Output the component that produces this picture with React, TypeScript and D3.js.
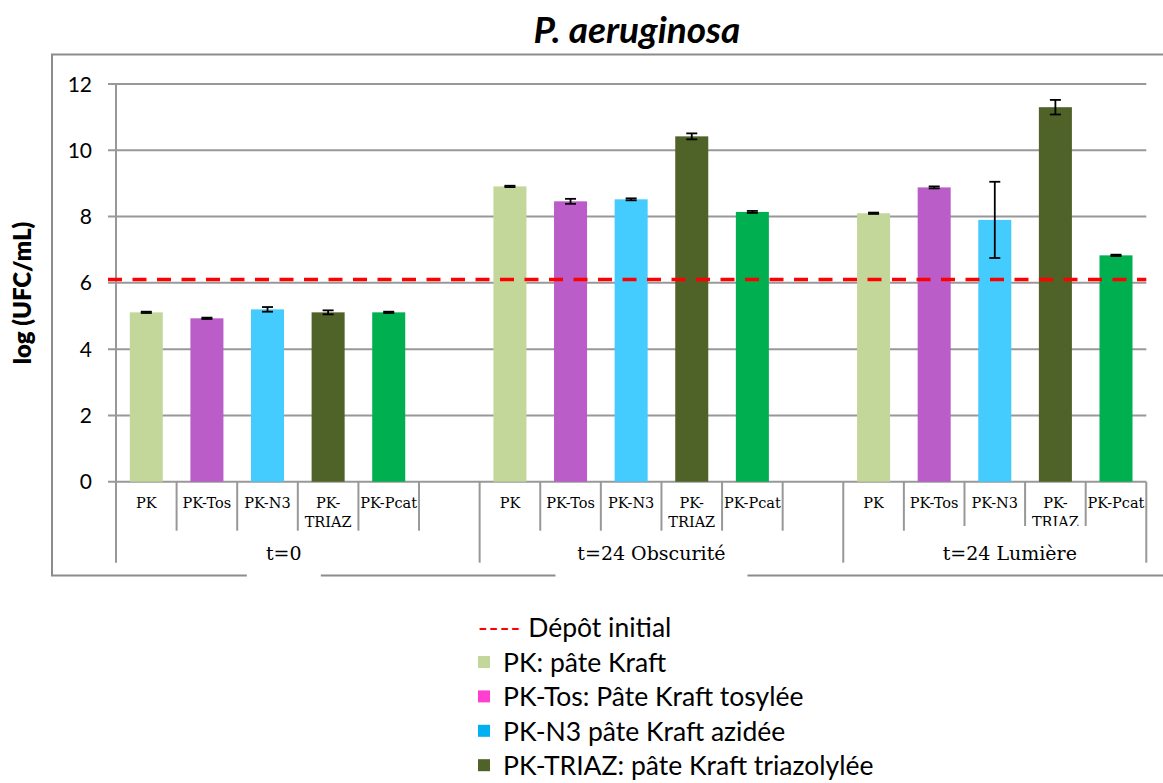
import React from 'react';
import * as d3 from 'd3';

const groups = ['t=0', 't=24 Obscurité', 't=24 Lumière'];
const seriesNames = ['PK', 'PK-Tos', 'PK-N3', 'PK-TRIAZ', 'PK-Pcat'];
const seriesLabelLines = [['PK'], ['PK-Tos'], ['PK-N3'], ['PK-', 'TRIAZ'], ['PK-Pcat']];
const valuesT0 = [5.11, 4.93, 5.2, 5.11, 5.11];
const errorsT0 = [0.02, 0.02, 0.07, 0.06, 0.02];
const valuesObscurite = [8.91, 8.46, 8.52, 10.42, 8.14];
const errorsObscurite = [0.02, 0.075, 0.03, 0.09, 0.03];
const valuesLumiere = [8.1, 8.88, 7.9, 11.3, 6.83];
const errorsLumiere = [0.02, 0.03, 1.15, 0.22, 0.02];
const depotInitial = 6.1;
const yTicks = [0, 2, 4, 6, 8, 10, 12];
const barColors = ['#c4d79b', '#ba5dc9', '#44ccff', '#4f6228', '#00b050'];
const legendLabels = [
  'PK: pâte Kraft',
  'PK-Tos: Pâte Kraft tosylée',
  'PK-N3 pâte Kraft azidée',
  'PK-TRIAZ: pâte Kraft triazolylée',
];
const legendColors = ['#c4d79b', '#ff3fcf', '#00b0f0', '#4f6228'];
const dashLabel = 'Dépôt initial';
const title = 'P. aeruginosa';
const yTitle = 'log (UFC/mL)';

const W = 1163;
const H = 783;
const CAL = 'Lato, "Open Sans", sans-serif';
const SERIF = '"DejaVu Serif", serif';
const GRID = '#989898';

export default function App() {
  const groupValues = [valuesT0, valuesObscurite, valuesLumiere];
  const groupErrors = [errorsT0, errorsObscurite, errorsLumiere];

  const slots: string[] = [];
  groups.forEach((g, gi) => {
    seriesNames.forEach((s) => slots.push(`${gi}|${s}`));
    if (gi < groups.length - 1) slots.push(`${gi}|gap`);
  });

  const plotLeft = 116;
  const plotRight = 1146.3;
  const x = d3.scaleBand<string>().domain(slots).range([plotLeft, plotRight]).padding(0);
  const y = d3.scaleLinear().domain([0, 12]).range([481.7, 84]);
  const bw = x.bandwidth();
  const barW = bw * 0.545;
  const y0 = y(0);
  const smallDivBottom = 530.7;
  const longDivBottom = 562.7;

  const bars: any[] = [];
  groups.forEach((g, gi) => {
    seriesNames.forEach((s, si) => {
      const key = `${gi}|${s}`;
      const cx = (x(key) as number) + bw / 2;
      bars.push({ key, cx, v: groupValues[gi][si], e: groupErrors[gi][si], color: barColors[si], si });
    });
  });

  const groupStarts = groups.map((g, gi) => x(`${gi}|${seriesNames[0]}`) as number);
  const groupEnds = groups.map((g, gi) => (gi < groups.length - 1 ? groupStarts[gi + 1] : plotRight));
  const groupLabelOffsets = [-14, -10, 15];
  const groupLabelHalfW = [37, 96, 90];
  const groupBoxY = [533, 533, 526];
  const groupBoxH = [46, 46, 45];

  return (
    <div style={{ position: 'absolute', left: 0, top: 0 }}>
      <svg width={W} height={H} style={{ display: 'block', background: '#fff' }}>
        <rect x={0} y={0} width={W} height={H} fill="#fff" />
        <rect x={52} y={54.5} width={1200} height={521} fill="none" stroke="#8c8c8c" strokeWidth={2} />
        <text x={637} y={43} textAnchor="middle" fontFamily={CAL} fontWeight={700} fontStyle="italic" fontSize={37} fill="#000">
          {title}
        </text>
        <text transform={`translate(31,${293}) rotate(-90)`} textAnchor="middle" fontFamily={CAL} fontWeight={800} fontSize={24} fill="#000">
          {yTitle}
        </text>
        {yTicks.map((t) => (
          <g key={t}>
            <line x1={108} x2={plotRight} y1={y(t)} y2={y(t)} stroke={GRID} strokeWidth={2} />
            <text x={92} y={y(t)} dy="0.36em" textAnchor="end" fontFamily={CAL} fontSize={21} fill="#000">
              {t}
            </text>
          </g>
        ))}
        <line x1={plotLeft} x2={plotLeft} y1={y(12)} y2={longDivBottom} stroke={GRID} strokeWidth={2} />
        {slots.map((s, i) => {
          const isGroupStart = groupStarts.includes(x(s) as number);
          if (i === 0) return null;
          return (
            <line key={s} x1={x(s)} x2={x(s)} y1={y0} y2={isGroupStart ? longDivBottom : smallDivBottom} stroke={GRID} strokeWidth={2} />
          );
        })}
        <line x1={plotRight} x2={plotRight} y1={y0} y2={longDivBottom} stroke={GRID} strokeWidth={2} />
        {bars.map((b) => (
          <text key={'l' + b.key} textAnchor="middle" fontFamily={SERIF} fontSize={14.5} fill="#000">
            {seriesLabelLines[b.si].map((ln, li) => (
              <tspan key={li} x={b.cx} y={508 + li * 19}>
                {ln}
              </tspan>
            ))}
          </text>
        ))}
        {groups.map((g, gi) => {
          const cx = (groupStarts[gi] + groupEnds[gi]) / 2 + groupLabelOffsets[gi];
          return (
            <g key={g}>
              <rect x={cx - groupLabelHalfW[gi]} y={groupBoxY[gi]} width={groupLabelHalfW[gi] * 2} height={groupBoxH[gi]} fill="#fff" />
              <text x={cx} y={560} textAnchor="middle" fontFamily={SERIF} fontSize={19} fill="#000">
                {g}
              </text>
            </g>
          );
        })}
        {bars.map((b) => (
          <rect key={b.key} x={b.cx - barW / 2} y={y(b.v)} width={barW} height={y0 - y(b.v)} fill={b.color} />
        ))}
        <line x1={108} x2={plotRight} y1={y(depotInitial)} y2={y(depotInitial)} stroke="#ff0000" strokeWidth={3.5} strokeDasharray="14 10.5" />
        {bars.map((b) => {
          const top = y(b.v + b.e);
          const bot = y(b.v - b.e);
          return (
            <g key={'e' + b.key} stroke="#000" strokeWidth={1.8}>
              <line x1={b.cx} x2={b.cx} y1={top} y2={bot} />
              <line x1={b.cx - 5.5} x2={b.cx + 5.5} y1={top} y2={top} />
              <line x1={b.cx - 5.5} x2={b.cx + 5.5} y1={bot} y2={bot} />
            </g>
          );
        })}
        <g fontFamily={CAL} fontSize={26.5}>
          <text x={478} y={637} fill="#000">
            <tspan fill="#ff0000" letterSpacing={1}>----</tspan>
            <tspan> {dashLabel}</tspan>
          </text>
          {legendLabels.map((l, i) => (
            <g key={l}>
              <rect x={478} y={656 + i * 34.4} width={12} height={12} fill={legendColors[i]} />
              <text x={503} y={672 + i * 34.4} fill="#000">
                {l}
              </text>
            </g>
          ))}
        </g>
      </svg>
    </div>
  );
}
